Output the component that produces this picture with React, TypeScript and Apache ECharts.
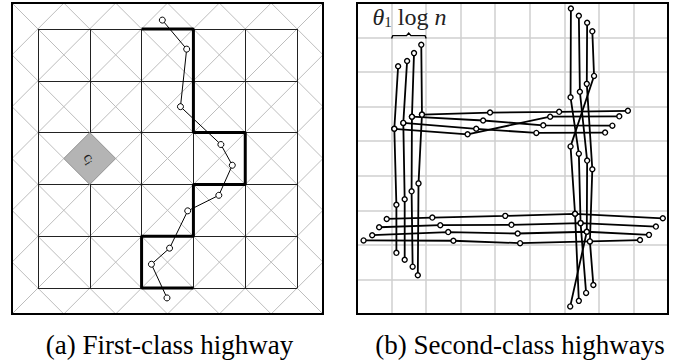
import React, { useEffect, useRef } from "react";
import * as echarts from "echarts";

// ---------- Panel (a): first-class highway (units: cells, frame 0..6, y down) ----------
const A_SIZE = 6;
const A_GRID_LINES = [0.5, 1.5, 2.5, 3.5, 4.5, 5.5];
const A_HIGHWAY = [
  [2.5, 0.5], [3.5, 0.5], [3.5, 2.5], [4.5, 2.5], [4.5, 3.5],
  [3.5, 3.5], [3.5, 4.5], [2.5, 4.5], [2.5, 5.5], [3.5, 5.5],
];
const A_POINTS = [
  [2.9, 0.33], [3.37, 0.89], [3.25, 2.0], [4.03, 2.73], [4.25, 3.13],
  [3.99, 3.71], [3.39, 4.01], [3.04, 4.73], [2.69, 5.04], [2.99, 5.69],
];
const A_CELL = [1.5, 3.0];
const A_CELL_LABEL = "c";
const A_CELL_SUB = "i";

// ---------- Panel (b): second-class highways (units: frame 0..9, y down) ----------
const B_SIZE = 9;
const B_LEFT_VERTICALS = [
  [[1.19, 1.83], [1.08, 3.64], [1.14, 5.84], [1.14, 7.23]],
  [[1.45, 1.68], [1.34, 3.47], [1.38, 5.68], [1.38, 7.43]],
  [[1.65, 1.45], [1.59, 3.29], [1.58, 5.45], [1.61, 7.63]],
  [[1.86, 1.21], [1.88, 3.23], [1.78, 5.22], [1.76, 7.88]],
];
const B_UPPER_HORIZONTALS = [
  [[1.88, 3.23], [3.85, 3.17], [5.85, 3.15], [7.84, 3.12]],
  [[1.59, 3.29], [3.65, 3.4], [5.39, 3.54], [7.39, 3.55]],
  [[1.34, 3.47], [3.45, 3.64], [5.19, 3.76], [7.18, 3.75]],
  [[1.08, 3.64], [3.2, 3.8], [5.59, 3.29], [7.59, 3.28]],
];
const B_RIGHT_VERTICALS = [
  [[6.81, 0.82], [6.86, 2.11], [6.18, 4.15], [6.31, 6.1], [6.42, 8.62]],
  [[6.19, 0.16], [6.18, 2.73], [6.42, 4.36], [6.47, 6.37], [6.63, 8.39]],
  [[6.42, 0.37], [6.45, 2.57], [6.66, 4.56], [6.65, 6.62], [6.17, 8.78]],
  [[6.66, 0.57], [6.65, 2.34], [6.81, 4.81], [6.74, 6.9], [6.84, 8.16]],
];
const B_LOWER_HORIZONTALS = [
  [[0.86, 6.25], [2.18, 6.21], [4.29, 6.16], [6.31, 6.1], [8.85, 6.23]],
  [[0.64, 6.49], [2.41, 6.43], [4.47, 6.42], [6.47, 6.37], [8.65, 6.47]],
  [[0.44, 6.72], [2.64, 6.63], [4.65, 6.67], [6.65, 6.62], [8.45, 6.71]],
  [[0.19, 6.87], [2.79, 6.88], [4.72, 6.95], [6.74, 6.9], [8.19, 6.86]],
];
const B_SPACING_LABEL = ["θ", "1", "log", "n"];
const B_SPACING_SPAN = [1, 2]; // brace spans grid columns 1..2

const CAPTIONS = ["(a) First-class highway", "(b) Second-class highways"];

const SERIF = "'Liberation Serif', 'Times New Roman', Times, serif";

function diagonalSegments(size: number) {
  const segs: number[][][] = [];
  for (let k = -(size - 1); k <= size - 1; k++) {
    if (k >= 0) segs.push([[k, 0], [size, size - k]]);
    else segs.push([[0, -k], [size + k, size]]);
  }
  for (let k = 1; k <= 2 * size - 1; k++) {
    if (k <= size) segs.push([[k, 0], [0, k]]);
    else segs.push([[size, k - size], [k - size, size]]);
  }
  return segs;
}

function innerGridSegments(lines: number[]) {
  const lo = lines[0];
  const hi = lines[lines.length - 1];
  const segs: number[][][] = [];
  lines.forEach((v) => {
    segs.push([[v, lo], [v, hi]]);
    segs.push([[lo, v], [hi, v]]);
  });
  return segs;
}

export default function App() {
  const ref = useRef<HTMLDivElement>(null);
  useEffect(() => {
    if (!ref.current) return;
    const chart = echarts.init(ref.current, null, { renderer: "svg" });

    const hiddenAxis = {
      type: "value",
      axisLine: { show: false },
      axisTick: { show: false },
      axisLabel: { show: false },
      splitLine: { show: false },
    };

    const bLine = (pts: number[][], name: string) => ({
      type: "line",
      name,
      xAxisIndex: 1,
      yAxisIndex: 1,
      data: pts,
      symbol: "circle",
      symbolSize: 5,
      showSymbol: true,
      lineStyle: { color: "#000", width: 1.8 },
      itemStyle: { color: "#fff", borderColor: "#000", borderWidth: 1.4 },
      emphasis: { disabled: true },
      silent: true,
      z: 3,
    });

    const bSeries: any[] = [];
    B_LEFT_VERTICALS.forEach((p, i) => bSeries.push(bLine(p, "lv" + i)));
    B_RIGHT_VERTICALS.forEach((p, i) => bSeries.push(bLine(p, "rv" + i)));
    B_UPPER_HORIZONTALS.forEach((p, i) => bSeries.push(bLine(p, "uh" + i)));
    B_LOWER_HORIZONTALS.forEach((p, i) => bSeries.push(bLine(p, "lh" + i)));

    chart.setOption({
      animation: false,
      backgroundColor: "#fff",
      grid: [
        { left: 12, top: 3, width: 311, height: 311, show: true, borderColor: "#000", borderWidth: 2, backgroundColor: "transparent", z: 5 },
        { left: 357, top: 3, width: 311, height: 311, show: true, borderColor: "#000", borderWidth: 2, backgroundColor: "transparent", z: 5 },
      ],
      xAxis: [
        { ...hiddenAxis, gridIndex: 0, min: 0, max: A_SIZE },
        {
          type: "value", gridIndex: 1, min: 0, max: B_SIZE, interval: 1,
          axisLine: { show: false }, axisTick: { show: false }, axisLabel: { show: false },
          splitLine: { show: true, lineStyle: { color: "#cfcfcf", width: 1.5 } },
        },
      ],
      yAxis: [
        { ...hiddenAxis, gridIndex: 0, min: 0, max: A_SIZE, inverse: true },
        {
          type: "value", gridIndex: 1, min: 0, max: B_SIZE, interval: 1, inverse: true,
          axisLine: { show: false }, axisTick: { show: false }, axisLabel: { show: false },
          splitLine: { show: true, lineStyle: { color: "#cfcfcf", width: 1.5 } },
        },
      ],
      series: [
        {
          type: "lines",
          coordinateSystem: "cartesian2d",
          xAxisIndex: 0, yAxisIndex: 0,
          data: diagonalSegments(A_SIZE).map((c) => ({ coords: c })),
          lineStyle: { color: "#bdbdbd", width: 1, opacity: 1 },
          silent: true,
          z: 1,
        },
        {
          type: "lines",
          coordinateSystem: "cartesian2d",
          xAxisIndex: 0, yAxisIndex: 0,
          data: innerGridSegments(A_GRID_LINES).map((c) => ({ coords: c })),
          lineStyle: { color: "#222", width: 1, opacity: 1 },
          silent: true,
          z: 2,
        },
        {
          type: "custom",
          xAxisIndex: 0, yAxisIndex: 0,
          data: [A_CELL],
          silent: true,
          z: 3,
          renderItem: (params: any, api: any) => {
            const cx = api.value(0);
            const cy = api.value(1);
            const pts = [[cx, cy - 0.5], [cx + 0.5, cy], [cx, cy + 0.5], [cx - 0.5, cy]].map((p) => api.coord(p));
            const c = api.coord([cx, cy]);
            return {
              type: "group",
              children: [
                { type: "polygon", shape: { points: pts }, style: { fill: "#b4b4b4", stroke: "#9a9a9a", lineWidth: 1 } },
                {
                  type: "text", x: c[0], y: c[1], rotation: -Math.PI / 3,
                  style: {
                    text: `{c|${A_CELL_LABEL}}{i|${A_CELL_SUB}}`,
                    align: "center", verticalAlign: "middle",
                    rich: {
                      c: { fontFamily: SERIF, fontSize: 15, fill: "#222" },
                      i: { fontFamily: SERIF, fontSize: 11, fill: "#222", padding: [6, 0, 0, 0] },
                    },
                  },
                },
              ],
            };
          },
        },
        {
          type: "line",
          xAxisIndex: 0, yAxisIndex: 0,
          data: A_HIGHWAY,
          symbol: "none",
          lineStyle: { color: "#000", width: 3 },
          silent: true,
          z: 4,
        },
        {
          type: "line",
          xAxisIndex: 0, yAxisIndex: 0,
          data: A_POINTS,
          symbol: "circle",
          symbolSize: 6,
          showSymbol: true,
          lineStyle: { color: "#000", width: 1 },
          itemStyle: { color: "#fff", borderColor: "#000", borderWidth: 1 },
          silent: true,
          z: 4,
        },
        ...bSeries,
      ],
      graphic: [
        {
          type: "text",
          x: 409.5, y: 17,
          style: {
            text: `{t|${B_SPACING_LABEL[0]}}{s|${B_SPACING_LABEL[1]}}{r| ${B_SPACING_LABEL[2]} }{t|${B_SPACING_LABEL[3]}}`,
            align: "center", verticalAlign: "middle",
            rich: {
              t: { fontFamily: SERIF, fontStyle: "italic", fontSize: 24, fill: "#222" },
              s: { fontFamily: SERIF, fontSize: 15, fill: "#222", padding: [10, 0, 0, 0] },
              r: { fontFamily: SERIF, fontSize: 24, fill: "#222" },
            },
          },
          z: 10,
        },
        {
          type: "polyline",
          shape: {
            points: [
              [357 + B_SPACING_SPAN[0] * 34.6, 38.5], [357 + B_SPACING_SPAN[0] * 34.6 + 1.2, 35.6],
              [406.5, 35.6], [408.7, 33], [410.9, 35.6],
              [357 + B_SPACING_SPAN[1] * 34.6 - 1.2, 35.6], [357 + B_SPACING_SPAN[1] * 34.6, 38.5],
            ],
          },
          style: { stroke: "#000", lineWidth: 1.4, fill: null },
          z: 10,
        },
        {
          type: "text", x: 169.5, y: 345,
          style: { text: CAPTIONS[0], font: `27px ${SERIF}`, fill: "#000", align: "center", verticalAlign: "middle" },
        },
        {
          type: "text", x: 520, y: 345,
          style: { text: CAPTIONS[1], font: `27px ${SERIF}`, fill: "#000", align: "center", verticalAlign: "middle" },
        },
      ],
    });
    return () => chart.dispose();
  }, []);
  return <div ref={ref} style={{ position: "fixed", left: 0, top: 0, width: 684, height: 360, background: "#fff" }} />;
}
